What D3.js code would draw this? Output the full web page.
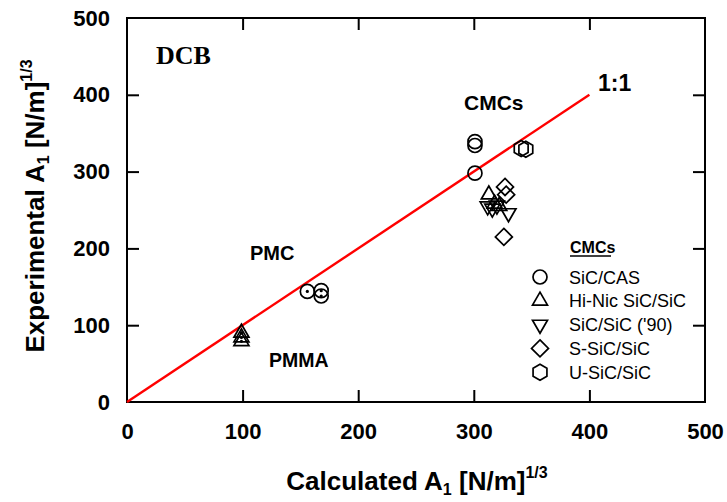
<!DOCTYPE html>
<html>
<head>
<meta charset="utf-8">
<script src="https://cdn.jsdelivr.net/npm/d3@7"></script>
<style>
  body { margin: 0; background: #fff; }
  text { font-family: Arial, "Liberation Sans", sans-serif; }
</style>
</head>
<body>
<div id="plot"></div>
<script>
// axis ticks
var xTicks = [0, 100, 200, 300, 400, 500];
var yTicks = [0, 100, 200, 300, 400, 500];

// CMC series [calculated, experimental]
var sicCas   = [[301, 339], [301, 334], [301, 298]];
var hiNic    = [[313, 270], [318, 258], [322, 255]];
var sic90    = [[312, 255], [316, 252], [320, 256], [330, 246]];
var sSic     = [[327, 280], [328, 270], [326, 215]];
var uSic     = [[341, 330], [345, 329]];

// polymer points
var pmc      = [[156, 144], [168, 145], [168, 138]];
var pmma     = [[99, 90], [99, 84], [99, 79]];

// 1:1 line
var oneToOne = [[0, 0], [400, 400]];

var legendNames = ["SiC/CAS", "Hi-Nic SiC/SiC", "SiC/SiC ('90)", "S-SiC/SiC", "U-SiC/SiC"];

var W = 727, H = 502;
var svg = d3.select("#plot").append("svg")
  .attr("width", W).attr("height", H);

var x = d3.scaleLinear().domain([0, 500]).range([127, 705]);
var y = d3.scaleLinear().domain([0, 500]).range([402, 18]);

// marker shapes, drawn around (0,0)
function circlePath(r) {
  return "M" + r + ",0A" + r + "," + r + " 0 1,1 " + (-r) + ",0A" + r + "," + r + " 0 1,1 " + r + ",0Z";
}
function triPath(s, down) {
  var h = s * Math.sqrt(3) / 2, k = down ? -1 : 1;
  return "M0," + (-k * h * 2 / 3) + "L" + (s / 2) + "," + (k * h / 3) + "L" + (-s / 2) + "," + (k * h / 3) + "Z";
}
function diamondPath(r) {
  return "M0," + (-r) + "L" + r + ",0L0," + r + "L" + (-r) + ",0Z";
}
function hexPath(r) {
  var p = d3.range(6).map(function(i) {
    var a = Math.PI / 3 * i - Math.PI / 2;
    return [r * Math.cos(a), r * Math.sin(a)];
  });
  return "M" + p.join("L") + "Z";
}
var shapes = [
  circlePath(7),
  triPath(15, false),
  triPath(15, true),
  diamondPath(8.5),
  hexPath(8)
];

// frame
svg.append("rect")
  .attr("x", x(0)).attr("y", y(500))
  .attr("width", x(500) - x(0)).attr("height", y(0) - y(500))
  .attr("fill", "none").attr("stroke", "#000").attr("stroke-width", 2);

var tl = 12;
var axB = d3.axisBottom(x).tickValues(xTicks).tickSizeInner(-tl).tickSizeOuter(0).tickPadding(tl + 9);
var axT = d3.axisTop(x).tickValues(xTicks).tickSizeInner(-tl).tickSizeOuter(0).tickFormat("");
var axL = d3.axisLeft(y).tickValues(yTicks).tickSizeInner(-tl).tickSizeOuter(0).tickPadding(tl + 5);
var axR = d3.axisRight(y).tickValues(yTicks).tickSizeInner(-tl).tickSizeOuter(0).tickFormat("");

function styleAxis(g) {
  g.select(".domain").remove();
  g.selectAll("line").attr("stroke", "#000").attr("stroke-width", 2);
  g.selectAll("text").attr("font-size", 22).attr("font-weight", "bold")
    .attr("fill", "#000").style("font-family", "Arial, 'Liberation Sans', sans-serif");
}
svg.append("g").attr("transform", "translate(0," + y(0) + ")").call(axB).call(styleAxis);
svg.append("g").attr("transform", "translate(0," + y(500) + ")").call(axT).call(styleAxis);
svg.append("g").attr("transform", "translate(" + x(0) + ",0)").call(axL).call(styleAxis);
svg.append("g").attr("transform", "translate(" + x(500) + ",0)").call(axR).call(styleAxis);

// hide the end ticks that sit on the frame corners
svg.selectAll("g.tick").filter(function(d) { return d === 0 || d === 500; })
  .select("line").remove();

// 1:1 line
svg.append("path")
  .datum(oneToOne)
  .attr("d", d3.line().x(function(d) { return x(d[0]); }).y(function(d) { return y(d[1]); }))
  .attr("stroke", "#f00").attr("stroke-width", 2.4).attr("fill", "none");

// data markers
function drawSeries(data, shape, dot) {
  var g = svg.append("g").selectAll("g").data(data).enter().append("g")
    .attr("transform", function(d) { return "translate(" + x(d[0]) + "," + y(d[1]) + ")"; });
  g.append("path").attr("d", shape)
    .attr("fill", "none").attr("stroke", "#000").attr("stroke-width", 1.7);
  if (dot) g.append("circle").attr("r", 1.6).attr("fill", "#000");
}
drawSeries(sicCas, shapes[0]);
drawSeries(hiNic, shapes[1]);
drawSeries(sic90, shapes[2]);
drawSeries(sSic, shapes[3]);
drawSeries(uSic, shapes[4]);
drawSeries(pmc, shapes[0], true);
drawSeries(pmma, shapes[1], true);

// annotations
function label(txt, px, py, size, extra) {
  var t = svg.append("text").attr("x", px).attr("y", py)
    .attr("font-size", size).attr("font-weight", "bold").text(txt);
  if (extra) extra(t);
  return t;
}
label("DCB", 156, 64, 26, function(t) {
  t.style("font-family", "'Liberation Serif', 'Times New Roman', serif");
});
label("1:1", 598, 91, 23);
label("CMCs", 464, 110, 21);
label("PMC", 250, 260, 20);
label("PMMA", 269, 367, 19.5);

// legend
var lg = svg.append("g");
lg.append("text").attr("x", 570).attr("y", 253)
  .attr("font-size", 16).attr("font-weight", "bold").text("CMCs");
lg.append("line").attr("x1", 570).attr("x2", 611).attr("y1", 256).attr("y2", 256)
  .attr("stroke", "#000").attr("stroke-width", 1.5);
var rows = lg.selectAll("g.row").data(legendNames).enter().append("g")
  .attr("class", "row")
  .attr("transform", function(d, i) { return "translate(0," + (277 + i * 23.8) + ")"; });
rows.append("path").attr("transform", "translate(540,0)")
  .attr("d", function(d, i) { return shapes[i]; })
  .attr("fill", "none").attr("stroke", "#000").attr("stroke-width", 1.7);
rows.append("text").attr("x", 569).attr("y", 6.5)
  .attr("font-size", 18).text(function(d) { return d; });

// axis titles with subscript and superscript
function axisTitle(t, main) {
  t.attr("font-size", 26).attr("font-weight", "bold");
  t.append("tspan").text(main + " A");
  t.append("tspan").attr("font-size", 16).attr("dy", 5).text("1");
  t.append("tspan").attr("dy", -5).text(" [N/m]");
  t.append("tspan").attr("font-size", 16).attr("dy", -12).text("1/3");
}
svg.append("text").attr("x", 417).attr("y", 490).attr("text-anchor", "middle")
  .call(axisTitle, "Calculated");
svg.append("text").attr("transform", "translate(44,206) rotate(-90)")
  .attr("text-anchor", "middle")
  .call(axisTitle, "Experimental");
</script>
</body>
</html>
